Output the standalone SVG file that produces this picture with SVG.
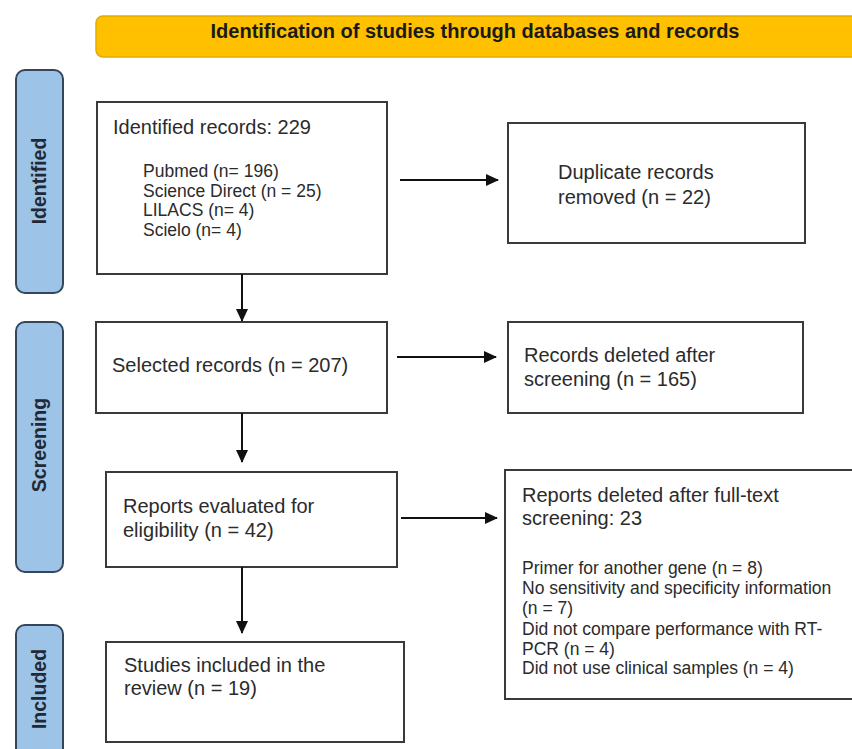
<svg xmlns="http://www.w3.org/2000/svg" width="852" height="749" viewBox="0 0 852 749">
<defs>
<marker id="ah" viewBox="0 0 13 12" refX="12" refY="6" markerWidth="13" markerHeight="12" markerUnits="userSpaceOnUse" orient="auto">
<path d="M0,0 L13,6 L0,12 z" fill="#111"/>
</marker>
</defs>
<style>
.box{fill:#fff;stroke:#3a3a3a;stroke-width:2}
.bar{fill:#9dc3e6;stroke:#34465a;stroke-width:2}
.t{font-family:"Liberation Sans",Arial,sans-serif;fill:#2b2b2b;font-size:20px}
.s{font-family:"Liberation Sans",Arial,sans-serif;fill:#2b2b2b;font-size:17.5px}
.lab{font-family:"Liberation Sans",Arial,sans-serif;fill:#1f2a36;font-size:19.5px;font-weight:bold;text-anchor:middle}
.c{stroke:#111;stroke-width:2;fill:none}
</style>
<rect width="852" height="749" fill="#fff"/>
<g id="banner">
<rect x="96" y="16" width="775" height="41" rx="7" fill="#ffc000" stroke="#e3aa00" stroke-width="1.5"/>
<text x="475" y="38" class="t" style="font-weight:bold;fill:#1a1a1a;text-anchor:middle">Identification of studies through databases and records</text>
</g>
<g id="bar-identified">
<rect x="16" y="70" width="47" height="223" rx="9" class="bar"/>
<text class="lab" transform="translate(46,181) rotate(-90)">Identified</text>
</g>
<g id="bar-screening">
<rect x="16" y="322" width="47" height="250" rx="9" class="bar"/>
<text class="lab" transform="translate(46,445) rotate(-90)">Screening</text>
</g>
<g id="bar-included">
<rect x="16" y="625" width="47" height="140" rx="9" class="bar"/>
<text class="lab" transform="translate(46,689) rotate(-90)">Included</text>
</g>
<g id="identified">
<rect x="97" y="102" width="290" height="172" class="box"/>
<text x="113" y="134" class="t">Identified records: 229</text>
<text x="143" y="177" class="s">Pubmed (n= 196)</text>
<text x="143" y="196.5" class="s">Science Direct (n = 25)</text>
<text x="143" y="216" class="s">LILACS (n= 4)</text>
<text x="143" y="235.5" class="s">Scielo (n= 4)</text>
</g>
<g id="duplicates">
<rect x="508" y="123" width="297" height="120" class="box"/>
<text x="558" y="179" class="t">Duplicate records</text>
<text x="558" y="204" class="t">removed (n = 22)</text>
</g>
<g id="selected">
<rect x="96" y="322" width="291" height="91" class="box"/>
<text x="112" y="372" class="t">Selected records (n = 207)</text>
</g>
<g id="deleted-screening">
<rect x="508" y="322" width="295" height="91" class="box"/>
<text x="524" y="362" class="t">Records deleted after</text>
<text x="524" y="386" class="t">screening (n = 165)</text>
</g>
<g id="eligibility">
<rect x="106" y="472" width="291" height="95" class="box"/>
<text x="123" y="513" class="t">Reports evaluated for</text>
<text x="123" y="537" class="t">eligibility (n = 42)</text>
</g>
<g id="deleted-fulltext">
<rect x="505" y="470" width="352" height="229" class="box"/>
<text x="522" y="502" class="t">Reports deleted after full-text</text>
<text x="522" y="525" class="t">screening: 23</text>
<text x="522" y="574" class="s">Primer for another gene (n = 8)</text>
<text x="522" y="594" class="s">No sensitivity and specificity information</text>
<text x="522" y="614" class="s">(n = 7)</text>
<text x="522" y="635" class="s">Did not compare performance with RT-</text>
<text x="522" y="655" class="s">PCR (n = 4)</text>
<text x="522" y="674" class="s">Did not use clinical samples (n = 4)</text>
</g>
<g id="included">
<rect x="106" y="642" width="298" height="100" class="box"/>
<text x="124" y="672" class="t">Studies included in the</text>
<text x="124" y="695" class="t">review (n = 19)</text>
</g>
<g id="connectors">
<line x1="400" y1="180" x2="498" y2="180" class="c" marker-end="url(#ah)"/>
<line x1="242" y1="274" x2="242" y2="321" class="c" marker-end="url(#ah)"/>
<line x1="397" y1="357" x2="496" y2="357" class="c" marker-end="url(#ah)"/>
<line x1="242" y1="413" x2="242" y2="462" class="c" marker-end="url(#ah)"/>
<line x1="401" y1="518" x2="497" y2="518" class="c" marker-end="url(#ah)"/>
<line x1="242" y1="567" x2="242" y2="633" class="c" marker-end="url(#ah)"/>
</g>
</svg>
